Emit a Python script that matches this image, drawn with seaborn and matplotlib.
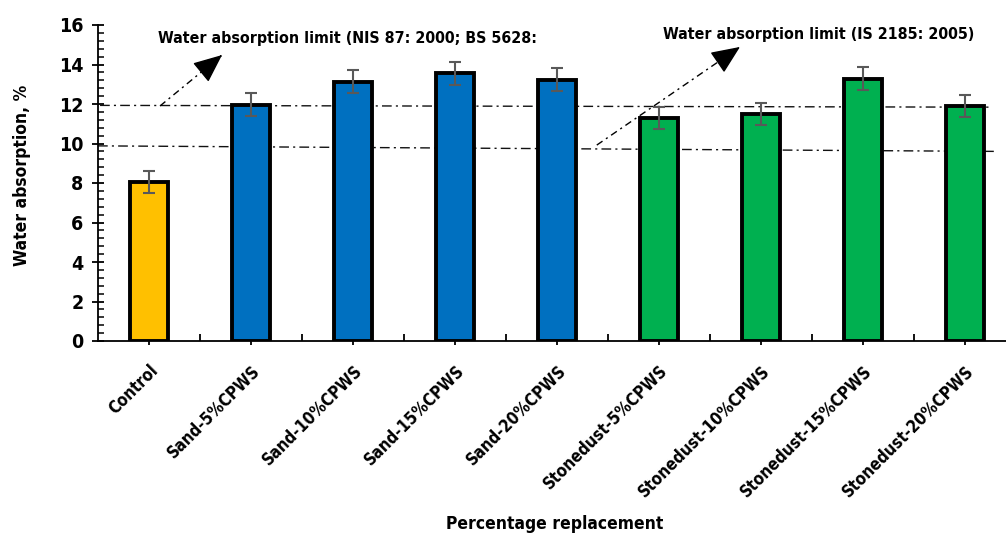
import matplotlib
matplotlib.use("Agg")
import matplotlib.pyplot as plt
from matplotlib import font_manager
from matplotlib.ticker import MultipleLocator, FixedLocator
import seaborn as sns
import pandas as pd
import numpy as np

# --- data -------------------------------------------------------------
categories = ["Control", "Sand-5%CPWS", "Sand-10%CPWS", "Sand-15%CPWS",
              "Sand-20%CPWS", "Stonedust-5%CPWS", "Stonedust-10%CPWS",
              "Stonedust-15%CPWS", "Stonedust-20%CPWS"]
absorption = [8.05, 11.97, 13.13, 13.55, 13.24, 11.27, 11.49, 13.28, 11.88]
abs_error = [0.55, 0.58, 0.57, 0.57, 0.56, 0.56, 0.57, 0.57, 0.56]
bar_colors = ["#FFC000", "#0070C0", "#0070C0", "#0070C0", "#0070C0",
              "#00B050", "#00B050", "#00B050", "#00B050"]

# limit lines (value at left end, value at right end)
nis_limit = [11.93, 11.84]
is_limit = [9.88, 9.60]
yticks = [0, 2, 4, 6, 8, 10, 12, 14, 16]

# --- fonts --------------------------------------------------------------
sns.set_theme(style="ticks")
names = {f.name for f in font_manager.fontManager.ttflist}
if "Liberation Sans Narrow" in names:
    FAM = ["Liberation Sans Narrow", "DejaVu Sans"]
    STRETCH = "normal"
else:
    FAM = ["DejaVu Sans"]
    STRETCH = "condensed"
plt.rcParams["font.family"] = FAM
plt.rcParams["font.stretch"] = STRETCH
plt.rcParams["font.weight"] = "bold"
for key in ["text.color", "axes.labelcolor", "xtick.color", "ytick.color",
            "xtick.labelcolor", "ytick.labelcolor"]:
    plt.rcParams[key] = "black"

df = pd.DataFrame({"cat": categories, "val": absorption})

fig = plt.figure(figsize=(10.06, 5.39), dpi=100)
ax = fig.add_axes([98 / 1006, 198 / 539, 918 / 1006, 316 / 539])

sns.barplot(data=df, x="cat", y="val", hue="cat", palette=bar_colors,
            legend=False, width=0.38, edgecolor="black", linewidth=2.8,
            saturation=1, ax=ax, zorder=3)
ax.errorbar(np.arange(len(categories)), absorption, yerr=abs_error,
            fmt="none", ecolor="#595959", elinewidth=1.5, capsize=4,
            capthick=1.5, zorder=4)

ax.set_xlim(-0.5, len(categories) - 0.5)
ax.set_ylim(0, 16)

# limit lines
dash = (0, (7, 3, 1.5, 3))
ax.plot([-0.48, 8.23], nis_limit, color="#111111", lw=1.0, ls=dash, zorder=2)
ax.plot([-0.5, 8.31], is_limit, color="#111111", lw=1.0, ls=dash, zorder=2)


def dashed_arrow(tail, tip):
    """Dash-dot shaft with a solid filled triangular head."""
    ax.plot([tail[0], tip[0]], [tail[1], tip[1]], color="black", lw=1.0,
            ls=(0, (5, 3, 1.5, 3)), zorder=5)
    # short solid segment at the tip carries the head
    near = (tip[0] - (tip[0] - tail[0]) * 0.02,
            tip[1] - (tip[1] - tail[1]) * 0.02)
    ax.annotate("", xy=tip, xytext=near, zorder=6,
                arrowprops=dict(arrowstyle="-|>,head_length=1.5,head_width=0.65",
                                color="black", lw=1.0, shrinkA=0, shrinkB=0))


dashed_arrow((0.108, 11.9), (0.716, 14.48))
dashed_arrow((4.39, 9.92), (5.794, 14.89))

ax.text(0.088, 15.34, "Water absorption limit (NIS 87: 2000; BS 5628:",
        fontsize=11.4, fontweight="bold", va="center", ha="left")
ax.text(5.04, 15.54, "Water absorption limit (IS 2185: 2005)",
        fontsize=11.4, fontweight="bold", va="center", ha="left")

# axes styling
for s in ["top", "right"]:
    ax.spines[s].set_visible(False)
for s in ["left", "bottom"]:
    ax.spines[s].set_linewidth(1.3)
    ax.spines[s].set_color("black")
ax.grid(False)

ax.set_yticks(yticks)
ax.set_yticklabels([str(t) for t in yticks])
ax.yaxis.set_minor_locator(MultipleLocator(0.4))
ax.tick_params(axis="y", which="major", direction="inout", length=9,
               width=1.3, color="black", labelsize=14, pad=6)
ax.tick_params(axis="y", which="minor", direction="in", length=4,
               width=1.1, color="black", left=True)

ax.set_xticks(np.arange(len(categories)))
ax.xaxis.set_minor_locator(FixedLocator(np.arange(len(categories)) + 0.5))
ax.tick_params(axis="x", which="major", direction="out", length=3,
               width=1.3, color="black", labelsize=12, pad=12)
ax.tick_params(axis="x", which="minor", direction="in", length=5,
               width=1.3, color="black", bottom=True)
ax.set_xticklabels(categories, rotation=45, ha="right", va="top",
                   rotation_mode="anchor", fontweight="bold")
for lbl in ax.get_yticklabels():
    lbl.set_fontweight("bold")

ax.set_xlabel("Percentage replacement", fontsize=12.5, fontweight="bold",
              va="center")
ax.xaxis.set_label_coords((555 - 98) / 918, -(524 - 341) / 316)
ax.set_ylabel("Water absorption, %", fontsize=12.5, fontweight="bold",
              va="center")
ax.yaxis.set_label_coords(-(98 - 22) / 918, (341 - 175) / 316)

fig.savefig("out.png", dpi=100)
